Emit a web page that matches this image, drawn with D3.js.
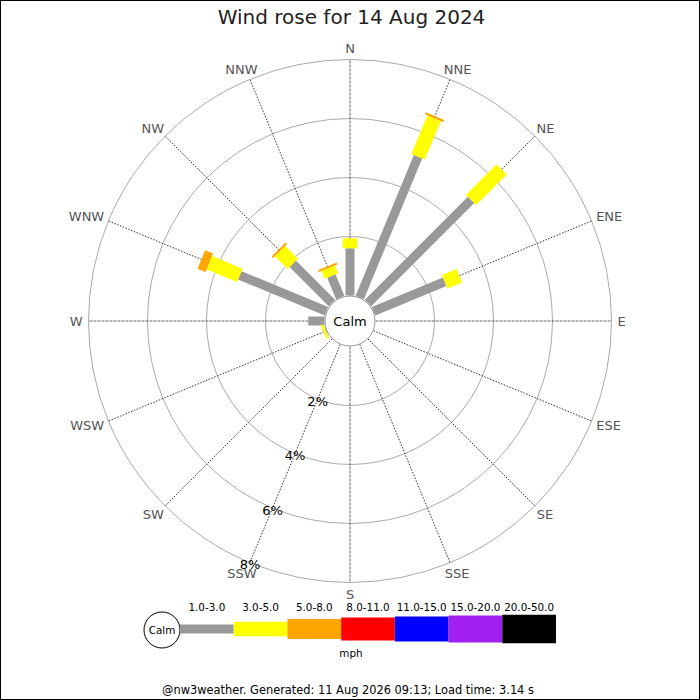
<!DOCTYPE html>
<html>
<head>
<meta charset="utf-8">
<script src="https://cdn.jsdelivr.net/npm/d3@7/dist/d3.min.js"></script>
<style>
  html, body { margin: 0; padding: 0; background: #fff; }
  svg { display: block; font-family: "DejaVu Sans", sans-serif; }
</style>
</head>
<body>
<svg id="chart" width="700" height="700"></svg>
<script>
// ---- data ----
const titleText = "Wind rose for 14 Aug 2024";
const footerText = "@nw3weather. Generated: 11 Aug 2026 09:13; Load time: 3.14 s";
const directions = ["N","NNE","NE","ENE","E","ESE","SE","SSE","S","SSW","SW","WSW","W","WNW","NW","NNW"];
const speedBands = ["1.0-3.0","3.0-5.0","5.0-8.0","8.0-11.0","11.0-15.0","15.0-20.0","20.0-50.0"];
const bandColors = ["#999999","#ffff00","#ffa500","#ff0000","#0000ff","#a020f0","#000000"];
const speedUnit = "mph";
const ringTicks = [2, 4, 6, 8];
// percent of time per direction, one array per speed band (same order as directions)
const band1to3   = [1.60, 5.16, 4.94, 2.61, 0, 0, 0, 0, 0, 0, 0, 0.02, 0.55, 3.18, 1.88, 0.79];
const band3to5   = [0.34, 1.42, 1.46, 0.54, 0, 0, 0, 0, 0, 0, 0, 0.09, 0, 1.12, 0.61, 0.28];
const band5to8   = [0, 0.07, 0, 0, 0, 0, 0, 0, 0, 0, 0, 0, 0, 0.29, 0.07, 0.07];
const band8to11  = [0, 0, 0, 0, 0, 0, 0, 0, 0, 0, 0, 0, 0, 0, 0, 0];
const band11to15 = [0, 0, 0, 0, 0, 0, 0, 0, 0, 0, 0, 0, 0, 0, 0, 0];
const band15to20 = [0, 0, 0, 0, 0, 0, 0, 0, 0, 0, 0, 0, 0, 0, 0, 0];
const band20to50 = [0, 0, 0, 0, 0, 0, 0, 0, 0, 0, 0, 0, 0, 0, 0, 0];
const bandValues = [band1to3, band3to5, band5to8, band8to11, band11to15, band15to20, band20to50];

// ---- layout ----
const W = 700, H = 700;
const cx = 350, cy = 321;
const calmR = 25.5, outerR = 261.5;
const labelPad = 6;
const bandWidths = [9, 14.5, 20, 23, 25, 27, 28.5];

const svg = d3.select("#chart");
svg.append("rect").attr("x", 0.5).attr("y", 0.5).attr("width", W - 1).attr("height", H - 1)
  .attr("fill", "#fff").attr("stroke", "#000").attr("stroke-width", 1);

svg.append("text").attr("x", 351.5).attr("y", 24).attr("text-anchor", "middle")
  .attr("font-size", 20).attr("fill", "#222").text(titleText);

const r = d3.scaleLinear().domain([0, 8]).range([calmR, outerR]);
const angle = d3.scaleBand().domain(directions).range([0, 360]).align(0).paddingInner(0).paddingOuter(0);
const ang = d => angle(d); // degrees clockwise from north

const g = svg.append("g").attr("transform", `translate(${cx},${cy})`);

// rings
g.selectAll("circle.ring").data(ringTicks).join("circle").attr("class", "ring")
  .attr("r", d => r(d)).attr("fill", "none").attr("stroke", "#aaa").attr("stroke-width", 1);

// spokes
const rad = a => (a - 90) * Math.PI / 180;
g.selectAll("line.spoke").data(directions).join("line").attr("class", "spoke")
  .attr("x1", d => calmR * Math.cos(rad(ang(d)))).attr("y1", d => calmR * Math.sin(rad(ang(d))))
  .attr("x2", d => outerR * Math.cos(rad(ang(d)))).attr("y2", d => outerR * Math.sin(rad(ang(d))))
  .attr("stroke", (d, i) => i % 4 === 0 ? "#666" : "#333")
  .attr("stroke-width", 1)
  .attr("stroke-dasharray", (d, i) => i % 4 === 0 ? "3,1" : "1.5,1.5");

// direction labels: box placed just outside the outer ring, pushed outward by half its size
const dirText = g.selectAll("text.dir").data(directions).join("text").attr("class", "dir")
  .attr("text-anchor", "middle").attr("font-size", 13).attr("fill", "#555").text(d => d);
dirText.each(function(d) {
  const a = ang(d) * Math.PI / 180;
  const s = Math.sin(a), c = Math.cos(a);
  const w = this.getComputedTextLength();
  const R = outerR + labelPad;
  const x = R * s + s * w / 2;
  const y = -R * c - c * 5.4;
  d3.select(this).attr("x", x).attr("y", y + 4.7);
});

// stacked bars
const rows = directions.map((d, i) => {
  let cum = 0;
  return bandValues.map((arr, b) => {
    const v = arr[i]; const s = { dir: d, band: b, y0: cum, y1: cum + v };
    cum += v; return s;
  }).filter(s => s.y1 > s.y0);
});
const segs = rows.flat().sort((a, b) => a.band - b.band);
g.selectAll("rect.seg").data(segs).join("rect").attr("class", "seg")
  .attr("transform", d => `rotate(${ang(d.dir)})`)
  .attr("x", d => -bandWidths[d.band] / 2)
  .attr("width", d => bandWidths[d.band])
  .attr("y", d => -r(d.y1))
  .attr("height", d => r(d.y1) - r(d.y0))
  .attr("fill", d => bandColors[d.band]);

// calm circle
g.append("circle").attr("r", calmR - 0.5).attr("fill", "#fff").attr("stroke", "#999").attr("stroke-width", 1);
g.append("text").attr("text-anchor", "middle").attr("dy", "0.35em").attr("font-size", 13)
  .attr("fill", "#000").text("Calm");

// percent labels along SSW
const pa = rad(ang("SSW"));
g.selectAll("text.pct").data(ringTicks).join("text").attr("class", "pct")
  .attr("x", d => r(d) * Math.cos(pa))
  .attr("y", d => r(d) * Math.sin(pa) + 6.5)
  .attr("text-anchor", "middle").attr("font-size", 13).attr("fill", "#000")
  .text(d => d + "%");

// legend
const lx = d3.scaleBand().domain(speedBands).range([180, 556]);
const ly = 629;
const lg = svg.append("g");
lg.append("circle").attr("cx", 162).attr("cy", ly + 1).attr("r", 18)
  .attr("fill", "#fff").attr("stroke", "#000").attr("stroke-width", 1);
lg.append("text").attr("x", 162).attr("y", ly + 1).attr("dy", "0.35em").attr("text-anchor", "middle")
  .attr("font-size", 10.4).attr("fill", "#000").text("Calm");
lg.selectAll("rect.lb").data(speedBands).join("rect").attr("class", "lb")
  .attr("x", d => lx(d)).attr("width", lx.bandwidth())
  .attr("y", (d, i) => ly - bandWidths[i] / 2).attr("height", (d, i) => bandWidths[i])
  .attr("fill", (d, i) => bandColors[i]);
lg.selectAll("text.lt").data(speedBands).join("text").attr("class", "lt")
  .attr("x", d => lx(d) + lx.bandwidth() / 2).attr("y", 611)
  .attr("text-anchor", "middle").attr("font-size", 10.4).attr("fill", "#000").text(d => d);
lg.append("text").attr("x", 351).attr("y", 657).attr("text-anchor", "middle")
  .attr("font-size", 10.4).attr("fill", "#000").text(speedUnit);

svg.append("text").attr("x", 348).attr("y", 694).attr("text-anchor", "middle")
  .attr("font-size", 11.4).attr("fill", "#000").text(footerText);
</script>
</body>
</html>
